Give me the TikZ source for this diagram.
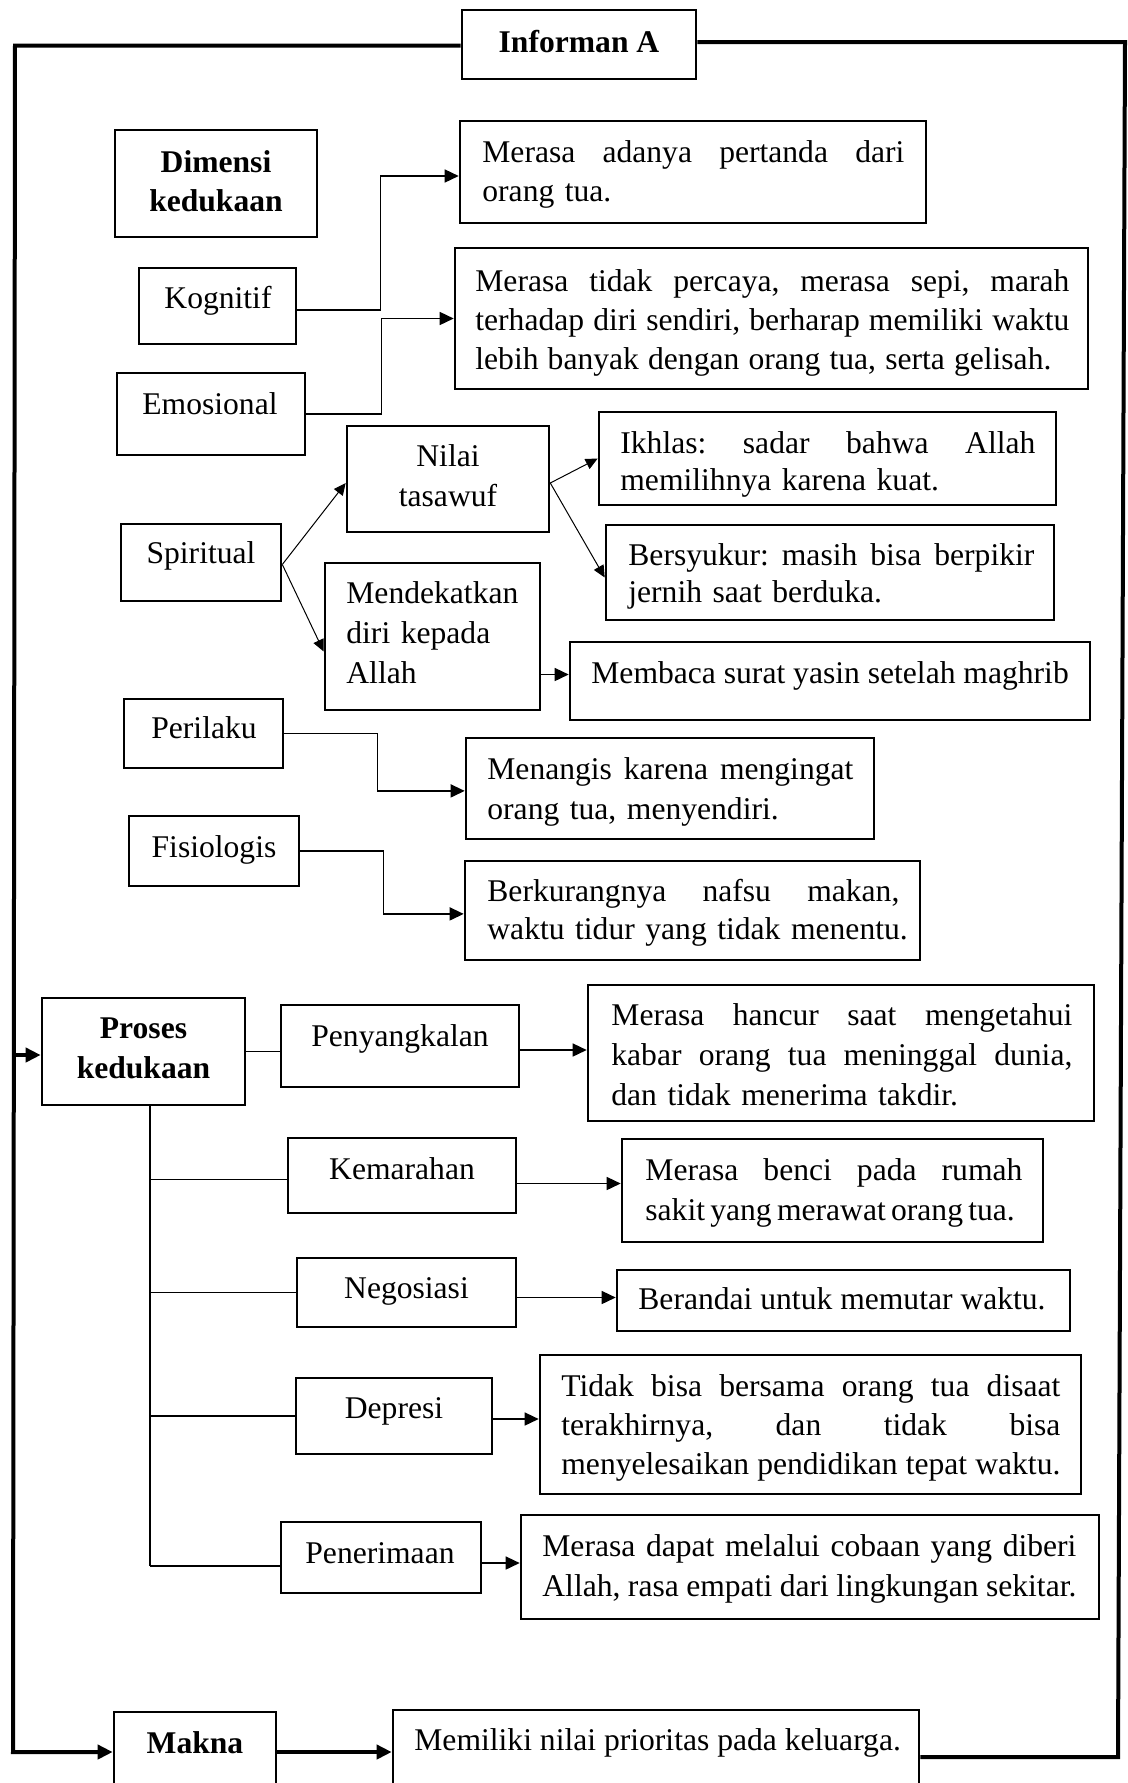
\documentclass[tikz,border=0pt]{standalone}
\usepackage{fontspec}
\setmainfont{Liberation Serif}
\usetikzlibrary{arrows.meta,fit,calc}
\newcommand\Jw[2]{\leavevmode\hbox to #1pt{\spaceskip=0pt\xspaceskip=0pt\relax #2}}
\frenchspacing
\begin{document}
\begin{tikzpicture}[x=0.5pt,y=-0.5pt,
  bx/.style={draw, line width=1.3pt, inner sep=0pt},
  tx/.style={inner sep=0pt, font=\fontsize{15.8pt}{#1}\selectfont\frenchspacing},
  tx/.default=19.7pt,
  ln/.style={line width=0.75pt, -{Triangle[length=7pt,width=6.5pt]}},
  lnp/.style={line width=0.75pt},
  sl/.style={line width=0.5pt, -{Triangle[length=6pt,width=5.5pt]}},
  frame/.style={line width=2pt},
  farr/.style={line width=2pt, -{Triangle[length=7.5pt,width=7pt]}}]
\useasboundingbox (0,0) rectangle (1128,1783);
\clip (0,0) rectangle (1128,1783);
\fill[white] (0,0) rectangle (1128,1783);

% boxes
\node[bx, fit={(462,10)(696,79)}] (inf) {};
\node[bx, fit={(115,130)(317,237)}] (dim) {};
\node[bx, fit={(139,268)(296,344)}] (kog) {};
\node[bx, fit={(460,121)(926,223)}] (t1) {};
\node[bx, fit={(117,373)(305,455)}] (emo) {};
\node[bx, fit={(455,248)(1088,389)}] (t2) {};
\node[bx, fit={(347,426)(549,532)}] (nil) {};
\node[bx, fit={(599,412)(1056,505)}] (ikh) {};
\node[bx, fit={(121,524)(281,601)}] (spi) {};
\node[bx, fit={(606,525)(1054,620)}] (ber) {};
\node[bx, fit={(325,563)(540,710)}] (men) {};
\node[bx, fit={(570,642)(1090,720)}] (mem) {};
\node[bx, fit={(124,699)(283,768)}] (per) {};
\node[bx, fit={(466,738)(874,839)}] (t3) {};
\node[bx, fit={(129,816)(299,886)}] (fis) {};
\node[bx, fit={(465,861)(920,960)}] (t4) {};
\node[bx, fit={(42,998)(245,1105)}] (pro) {};
\node[bx, fit={(281,1005)(519,1087)}] (pen) {};
\node[bx, fit={(588,985)(1094,1121)}] (t5) {};
\node[bx, fit={(288,1138)(516,1213)}] (kem) {};
\node[bx, fit={(622,1139)(1043,1242)}] (t6) {};
\node[bx, fit={(297,1258)(516,1327)}] (neg) {};
\node[bx, fit={(617,1270)(1070,1331)}] (t7) {};
\node[bx, fit={(296,1378)(492,1454)}] (dep) {};
\node[bx, fit={(540,1355)(1081,1494)}] (t8) {};
\node[bx, fit={(281,1522)(481,1593)}] (pnr) {};
\node[bx, fit={(521,1515)(1099,1619)}] (t9) {};
\node[bx, fit={(114,1712)(276,1800)}] (mak) {};
\node[bx, fit={(393,1710)(919,1800)}] (t10) {};

% texts
\node[tx, anchor=base] (inf-t) at (579,52) {\bfseries Informan A};
\node[tx=19.5pt, anchor=base, text width=101pt, align=center] (dim-t) at (216,172) {\bfseries Dimensi\\kedukaan};
\node[tx, anchor=base] (kog-t) at (218,308) {Kognitif};
\node[tx=19.5pt, anchor=base west, text width=260pt] (t1-t) at (482,162) {\Jw{211}{Merasa adanya pertanda dari}\\orang tua.};
\node[tx, anchor=base] (emo-t) at (210,414) {Emosional};
\node[tx=19.5pt, anchor=base west, text width=340pt] (t2-t) at (475,291) {\Jw{297}{Merasa tidak percaya, merasa sepi, marah}\\\Jw{297}{terhadap diri sendiri, berharap memiliki waktu}\\\Jw{288}{lebih banyak dengan orang tua, serta gelisah.}};
\node[tx=19.8pt, anchor=base, text width=101pt, align=center] (nil-t) at (448,466.6) {Nilai\\tasawuf};
\node[tx=18.5pt, anchor=base west, text width=250pt] (ikh-t) at (620,453) {\Jw{207.5}{Ikhlas: sadar bahwa Allah}\\memilihnya karena kuat.};
\node[tx, anchor=base] (spi-t) at (201,563.5) {Spiritual};
\node[tx=18.65pt, anchor=base west, text width=250pt] (ber-t) at (628,565) {\Jw{203}{Bersyukur: masih bisa berpikir}\\jernih saat berduka.};
\node[tx=19.9pt, anchor=base west, text width=120pt] (men-t) at (346,603.5) {Mendekatkan\\diri kepada\\Allah};
\node[tx, anchor=base west] (mem-t) at (591,683) {Membaca surat yasin setelah maghrib};
\node[tx, anchor=base] (per-t) at (204,738.5) {Perilaku};
\node[tx=20pt, anchor=base west, text width=230pt] (t3-t) at (487,779) {\Jw{183}{Menangis karena mengingat}\\orang tua, menyendiri.};
\node[tx, anchor=base] (fis-t) at (214,857) {Fisiologis};
\node[tx=19.4pt, anchor=base west, text width=250pt] (t4-t) at (487,901) {\Jw{206}{Berkurangnya nafsu makan,}\\waktu tidur yang tidak menentu.};
\node[tx=20.1pt, anchor=base, text width=101pt, align=center] (pro-t) at (143.5,1038) {\bfseries Proses\\kedukaan};
\node[tx, anchor=base] (pen-t) at (400,1046) {Penyangkalan};
\node[tx=20.1pt, anchor=base west, text width=280pt] (t5-t) at (611,1025) {\Jw{230.5}{Merasa hancur saat mengetahui}\\\Jw{230.5}{kabar orang tua meninggal dunia,}\\dan tidak menerima takdir.};
\node[tx, anchor=base] (kem-t) at (402,1179) {Kemarahan};
\node[tx=20.1pt, anchor=base west, text width=240pt] (t6-t) at (645,1180) {\Jw{188.5}{Merasa benci pada rumah}\\\Jw{181.5}{sakit yang merawat orang tua.}};
\node[tx, anchor=base] (neg-t) at (406.5,1298.6) {Negosiasi};
\node[tx, anchor=base west] (t7-t) at (638,1309) {Berandai untuk memutar waktu.};
\node[tx, anchor=base] (dep-t) at (394,1418.4) {Depresi};
\node[tx=19.6pt, anchor=base west, text width=300pt] (t8-t) at (561,1396) {\Jw{249.5}{Tidak bisa bersama orang tua disaat}\\\Jw{249.5}{terakhirnya, dan tidak bisa}\\\Jw{249.5}{menyelesaikan pendidikan tepat waktu.}};
\node[tx, anchor=base] (pnr-t) at (380,1563) {Penerimaan};
\node[tx=20pt, anchor=base west, text width=320pt] (t9-t) at (542,1556) {\Jw{267}{Merasa dapat melalui cobaan yang diberi}\\\Jw{267}{Allah, rasa empati dari lingkungan sekitar.}};
\node[tx, anchor=base] (mak-t) at (195,1753) {\bfseries Makna};
\node[tx, anchor=base west] (t10-t) at (414,1750) {Memiliki nilai prioritas pada keluarga.};

% frame
\coordinate (tl) at (15,45.7);
\coordinate (bl) at (13,1752);
\coordinate (pl) at (14,1055);
\coordinate (tr) at (1125,42);
\coordinate (br) at (1118,1757);
\draw[farr] (tl -| inf.west) -- (tl) -- (bl) -- (bl -| mak.west);
\draw[farr] (pl) -- (pl -| pro.west);
\draw[farr] (bl -| mak.east) -- (bl -| t10.west);
\draw[frame] (tr -| inf.east) -- (tr) -- (br) -- (br -| t10.east);

% dimension connectors
\draw[ln] ([yshift=-2pt]kog.east) -- ++(83,0) |- ([yshift=-2pt]t1.west);
\draw[ln] (emo.east) -- ++(75,0) |- (t2.west);
\draw[sl] ([yshift=-1pt]spi.east) -- ([yshift=-2pt]nil.west);
\draw[sl] ([yshift=-1pt]spi.east) -- ($(men.west)+(0,15)$);
\draw[sl] ([yshift=-2pt]nil.east) -- ([yshift=0pt]ikh.west);
\draw[sl] ([yshift=-2pt]nil.east) -- ([yshift=-2.5pt]ber.west);
\draw[ln] ([yshift=3.25pt]mem.west -| men.east) -- ([yshift=3.25pt]mem.west);
\draw[ln] (per.east) -- ++(93,0) |- ([yshift=-1.2pt]t3.west);
\draw[ln] (fis.east) -- ++(83,0) |- ([yshift=-1.7pt]t4.west);

% process connectors
\coordinate (vb) at (150,1566);
\draw[lnp] (pro.east) -- (pro.east -| pen.west);
\draw[ln] ([yshift=-2pt]pen.east) -- ([yshift=-2pt]pen.east -| t5.west);
\draw[lnp] (vb |- pro.south) -- (vb);
\draw[lnp] ([yshift=-2pt]kem.west -| vb) -- ([yshift=-2pt]kem.west);
\draw[lnp] (neg.west -| vb) -- (neg.west);
\draw[lnp] (dep.west -| vb) -- (dep.west);
\draw[lnp] (vb) -- (vb -| pnr.west);
\draw[ln] ([yshift=-4pt]kem.east) -- ([yshift=-4pt]kem.east -| t6.west);
\draw[ln] ([yshift=-2.5pt]neg.east) -- ([yshift=-2.5pt]neg.east -| t7.west);
\draw[ln] ([yshift=-1.5pt]dep.east) -- ([yshift=-1.5pt]dep.east -| t8.west);
\draw[ln] ([yshift=-2.75pt]pnr.east) -- ([yshift=-2.75pt]pnr.east -| t9.west);
\end{tikzpicture}
\end{document}
